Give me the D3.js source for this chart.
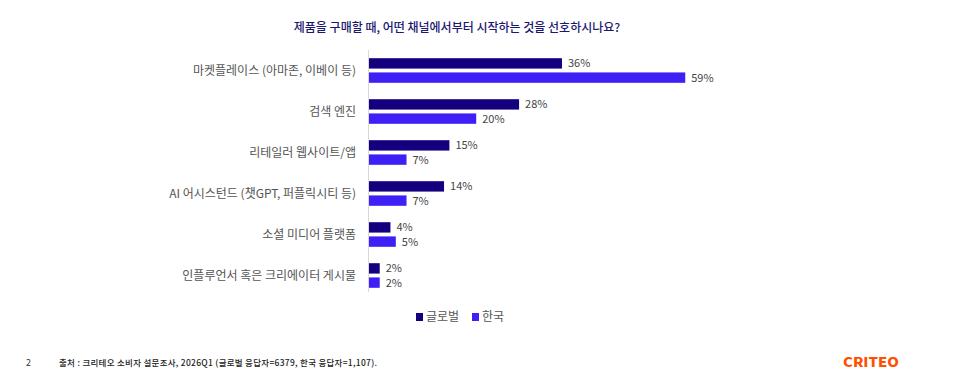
<!DOCTYPE html>
<html>
<head>
<meta charset="utf-8">
<script src="https://cdn.jsdelivr.net/npm/d3@7"></script>
<style>
body { margin: 0; background: #fff; }
text { font-family: "Noto Sans CJK KR", "Noto Sans", sans-serif; }
</style>
</head>
<body>
<div id="chart"></div>
<script>
var categories = [
    "마켓플레이스 (아마존, 이베이 등)",
    "검색 엔진",
    "리테일러 웹사이트/앱",
    "AI 어시스턴드 (챗GPT, 퍼플릭시티 등)",
    "소셜 미디어 플랫폼",
    "인플루언서 혹은 크리에이터 게시물"
];
var seriesNames = ["글로벌", "한국"];
var globalValues = [36, 28, 15, 14, 4, 2];
var koreaValues = [59, 20, 7, 7, 5, 2];
var colors = ["#14007f", "#3e1ff6"];

var svgWidth = 960;
var svgHeight = 392;

var svg = d3.select("#chart")
    .append("svg")
    .attr("width", svgWidth)
    .attr("height", svgHeight);

// title
svg.append("text")
    .attr("x", 457)
    .attr("y", 32)
    .attr("text-anchor", "middle")
    .attr("font-size", 12)
    .attr("font-weight", 500)
    .attr("fill", "#1b1870")
    .text("제품을 구매할 때, 어떤 채널에서부터 시작하는 것을 선호하시나요?");

var data = categories.map(function(c, i) {
    return { name: c, values: [globalValues[i], koreaValues[i]] };
});

var xScale = d3.scaleLinear()
    .domain([0, 100])
    .range([369, 905]);

var yScale = d3.scaleBand()
    .domain(categories)
    .range([50, 296]);

var ySub = d3.scaleBand()
    .domain([0, 1])
    .range([8.2, 32.8])
    .paddingInner(0.27);

// axis line
svg.append("line")
    .attr("x1", 368.5).attr("x2", 368.5)
    .attr("y1", 50).attr("y2", 292)
    .attr("stroke", "#d9d9d9")
    .attr("stroke-width", 1);

var groups = svg.selectAll(".grp")
    .data(data)
    .enter()
    .append("g")
    .attr("class", "grp")
    .attr("transform", d => `translate(0, ${yScale(d.name)})`);

groups.append("text")
    .attr("x", 356)
    .attr("y", yScale.bandwidth() / 2 + 4)
    .attr("text-anchor", "end")
    .attr("font-size", 12)
    .attr("fill", "#555")
    .text(d => d.name);

groups.selectAll("rect")
    .data(d => d.values)
    .enter()
    .append("rect")
    .attr("x", xScale(0))
    .attr("y", (v, i) => ySub(i))
    .attr("width", v => xScale(v) - xScale(0))
    .attr("height", ySub.bandwidth())
    .attr("fill", (v, i) => colors[i]);

groups.selectAll(".val")
    .data(d => d.values)
    .enter()
    .append("text")
    .attr("class", "val")
    .attr("x", v => xScale(v) + 6)
    .attr("y", (v, i) => ySub(i) + ySub.bandwidth() / 2 + 4)
    .attr("font-size", 11)
    .attr("fill", "#444")
    .attr("font-family", "Liberation Sans, Arial, sans-serif")
    .text(v => v + "%");

// legend
var legend = svg.append("g").attr("transform", "translate(416, 317)");
var legendX = [0, 56];
seriesNames.forEach(function(s, i) {
    legend.append("rect")
        .attr("x", legendX[i])
        .attr("y", -4)
        .attr("width", 7)
        .attr("height", 8)
        .attr("fill", colors[i]);
    legend.append("text")
        .attr("x", legendX[i] + 10)
        .attr("y", 4)
        .attr("font-size", 12)
        .attr("fill", "#555")
        .text(s);
});

// footer
svg.append("text")
    .attr("x", 26)
    .attr("y", 366)
    .attr("font-size", 9)
    .attr("fill", "#333")
    .text("2");

svg.append("text")
    .attr("x", 59)
    .attr("y", 366)
    .attr("font-size", 8.5)
    .attr("font-weight", 500)
    .attr("fill", "#222")
    .attr("textLength", 318)
    .text("출처 : 크리테오 소비자 설문조사, 2026Q1 (글로벌 응답자=6379, 한국 응답자=1,107).");

svg.append("text")
    .attr("x", 843)
    .attr("y", 367)
    .attr("font-size", 13)
    .attr("font-weight", 900)
    .attr("fill", "#fe5000")
    .attr("font-family", "DejaVu Sans, sans-serif")
    .attr("textLength", 56)
    .attr("lengthAdjust", "spacingAndGlyphs")
    .text("CRITEO");
</script>
</body>
</html>
